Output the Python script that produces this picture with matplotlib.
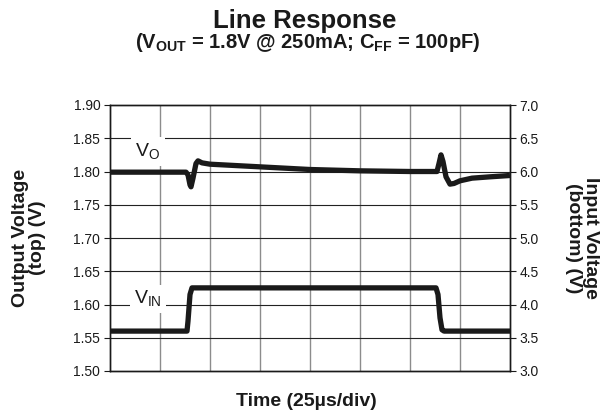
import matplotlib
matplotlib.use("Agg")
import matplotlib.pyplot as plt
import numpy as np

plt.rcParams['font.family'] = ['Liberation Sans', 'DejaVu Sans']
plt.rcParams['mathtext.fontset'] = 'custom'
plt.rcParams['mathtext.rm'] = 'Liberation Sans'
plt.rcParams['mathtext.bf'] = 'Liberation Sans:bold'

# Time axis in µs (8 div x 25µs)
t_vo = [0, 38, 39, 40, 40.5, 41.5, 43, 44, 46, 50, 75, 100, 125, 150, 163.5,
        164.5, 165.5, 166.5, 168, 170, 172, 175, 181, 190, 200]
vo = [1.799, 1.799, 1.795, 1.780, 1.777, 1.790, 1.812, 1.816, 1.813, 1.811,
      1.807, 1.803, 1.801, 1.800, 1.800, 1.812, 1.825, 1.815, 1.792, 1.781,
      1.782, 1.786, 1.790, 1.792, 1.794]

t_vin = [0, 38.5, 39, 40, 41, 163, 164, 165, 166, 167, 200]
vin = [3.6, 3.6, 3.75, 4.15, 4.25, 4.25, 4.15, 3.8, 3.62, 3.6, 3.6]

left_ticks = [1.50, 1.55, 1.60, 1.65, 1.70, 1.75, 1.80, 1.85, 1.90]
right_ticks = [3.0, 3.5, 4.0, 4.5, 5.0, 5.5, 6.0, 6.5, 7.0]
time_grid = [0, 25, 50, 75, 100, 125, 150, 175, 200]

fig = plt.figure(figsize=(6, 4.16), dpi=100)
ax = fig.add_axes([110/600, 1-371/416, 400/600, 266/416])
ax2 = ax.twinx()

# grid
for tg in time_grid[1:-1]:
    ax.axvline(tg, color='#8c8c8c', lw=1.0, zorder=0.5)
for yg in left_ticks[1:-1]:
    ax.axhline(yg, color='#222222', lw=0.8, zorder=0.5)

ax.plot(t_vo, vo, color='#1a1a1a', lw=3.8, solid_joinstyle='round',
        solid_capstyle='butt', zorder=2)
ax2.plot(t_vin, vin, color='#1a1a1a', lw=3.8, solid_joinstyle='round',
         solid_capstyle='butt', zorder=2)

ax.set_xlim(0, 200)
ax.set_ylim(1.50, 1.90)
ax2.set_ylim(3.0, 7.0)
ax.set_xticks([])
ax.set_yticks(left_ticks)
ax.set_yticklabels([f"{v:.2f}" for v in left_ticks])
ax2.set_yticks(right_ticks)
ax2.set_yticklabels([f"{v:.1f}" for v in right_ticks])
for a in (ax, ax2):
    a.tick_params(axis='y', direction='out', length=4, width=0.8,
                  labelsize=10, colors='#1a1a1a', pad=3)
    for s in a.spines.values():
        s.set_linewidth(1.0)
        s.set_color('#1a1a1a')

ax.text(19, 1.830, r"V$_{\mathrm{O}}$", fontsize=14, ha='center', va='center',
        color='#1a1a1a', zorder=3,
        bbox=dict(facecolor='white', edgecolor='none', pad=3))
ax.text(19, 1.608, r"V$_{\mathrm{IN}}$", fontsize=14, ha='center', va='center',
        color='#1a1a1a', zorder=3,
        bbox=dict(facecolor='white', edgecolor='none', pad=3))

fig.text(305/600, 1-21/416, "Line Response", fontsize=18.5, fontweight='bold',
         ha='center', va='center', color='#1a1a1a')
fig.text(308/600, 1-43/416,
         r"(V$_{\mathbf{OUT}}$ = 1.8V @ 250mA; C$_{\mathbf{FF}}$ = 100pF)",
         fontsize=14.5, fontweight='bold', ha='center', va='center', color='#1a1a1a')
fig.text(306/600, 1-402/416, "Time (25µs/div)", fontsize=14, fontweight='bold',
         ha='center', va='center', color='#1a1a1a')
fig.text(29/600, 1-238/416, "Output Voltage\n(top) (V)", fontsize=14,
         fontweight='bold', ha='center', va='center', rotation=90,
         multialignment='center', linespacing=1.0, color='#1a1a1a')
fig.text(582/600, 1-238/416, "Input Voltage\n(bottom) (V)", fontsize=14,
         fontweight='bold', ha='center', va='center', rotation=270,
         multialignment='center', linespacing=1.0, color='#1a1a1a')

fig.savefig("out.png", dpi=100)
